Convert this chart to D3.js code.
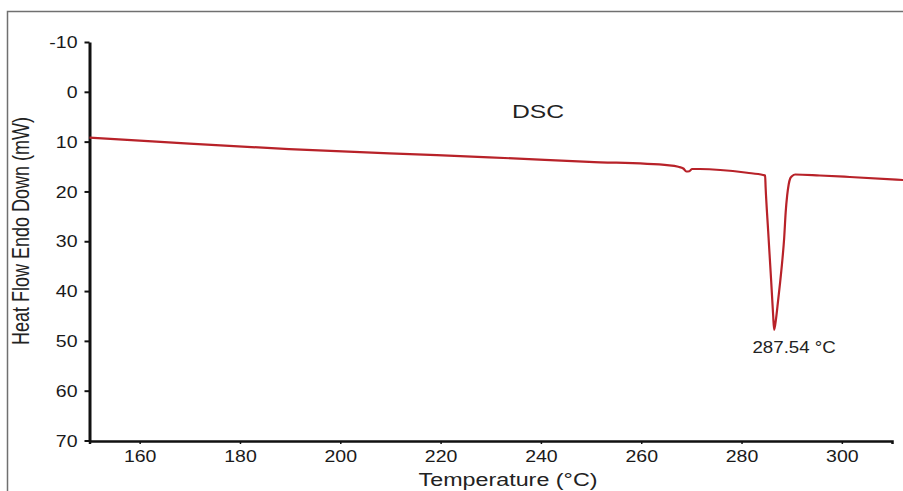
<!DOCTYPE html>
<html>
<head>
<meta charset="utf-8">
<script src="https://cdn.jsdelivr.net/npm/d3@7"></script>
<style>
  html, body { margin: 0; padding: 0; background: #fff; }
  svg { display: block; font-family: "Liberation Sans", Arial, sans-serif; }
</style>
</head>
<body>
<svg id="chart"></svg>
<script>
// DSC trace: temperature (°C) vs heat flow (mW, endo down)
const temps = [150.0, 160.0, 169.9, 189.8, 209.8, 229.7, 249.6, 265.6, 267.4, 268.4,
  269.0, 269.6, 270.1, 271.7, 281.1, 284.3, 284.7, 284.8, 285.3, 285.9,
  286.3, 286.5, 286.9, 287.3, 287.7, 288.1, 288.5, 288.8, 289.1, 289.4,
  289.7, 290.1, 290.7, 295.6, 301.6, 312.2];
const heatFlow = [9.2, 9.8, 10.4, 11.5, 12.35, 13.15, 14.05, 14.75, 15.05, 15.4,
  16.0, 15.95, 15.5, 15.5, 16.25, 16.7, 16.8, 19.1, 27.8, 37.8,
  44.8, 47.8, 45.4, 41.8, 38.2, 34.2, 29.4, 24.2, 20.8, 18.6,
  17.4, 16.9, 16.6, 16.8, 17.1, 17.7];

const xTicks = [160, 180, 200, 220, 240, 260, 280, 300];
const yTicks = [-10, 0, 10, 20, 30, 40, 50, 60, 70];
const peakLabel = "287.54 °C";
const peakTemp = 286.5;

const w = 903;
const h = 491;
const stretch = 1.22; // the figure is stretched sideways

const svg = d3.select("#chart").attr("width", w).attr("height", h);
svg.append("rect").attr("width", w).attr("height", h).attr("fill", "#fff");

// frame round the figure (top and left edges show)
svg.append("path")
  .attr("d", "M7.5,491 V11.5 H903")
  .attr("fill", "none")
  .attr("stroke", "#707070")
  .attr("stroke-width", 1.5);

const x = d3.scaleLinear().domain([150, 310]).range([89.5, 892]);
const y = d3.scaleLinear().domain([-10, 70]).range([42, 440.5]);

// y axis
const yAxis = svg.append("g")
  .attr("transform", "translate(89.5,0)")
  .call(d3.axisLeft(y).tickValues(yTicks).tickSize(5).tickSizeOuter(0));
yAxis.select(".domain").attr("stroke", "#111").attr("stroke-width", 3);
yAxis.selectAll(".tick line").attr("stroke", "#111").attr("stroke-width", 2);
yAxis.selectAll(".tick text").remove();
yAxis.selectAll(".tick")
  .append("text")
  .attr("transform", `translate(-12,0) scale(${stretch},1)`)
  .attr("dy", "0.35em")
  .attr("text-anchor", "end")
  .attr("fill", "#1a1a1a")
  .style("font-size", "16px")
  .text((d) => d);

// x axis
const xAxis = svg.append("g")
  .attr("transform", "translate(0,441)")
  .call(d3.axisBottom(x).tickValues(xTicks).tickSize(3).tickSizeOuter(3));
xAxis.select(".domain").attr("stroke", "#111").attr("stroke-width", 2.5);
xAxis.selectAll(".tick line").attr("stroke", "#111").attr("stroke-width", 1.5);
xAxis.selectAll(".tick text").remove();
xAxis.selectAll(".tick")
  .append("text")
  .attr("transform", `translate(0,21) scale(${stretch},1)`)
  .attr("text-anchor", "middle")
  .attr("fill", "#1a1a1a")
  .style("font-size", "16px")
  .text((d) => d);

// axis titles
svg.append("text")
  .attr("transform", `translate(508,486) scale(1.26,1)`)
  .attr("text-anchor", "middle")
  .attr("fill", "#222")
  .style("font-size", "18.5px")
  .text("Temperature (°C)");

svg.append("text")
  .attr("transform", `translate(29,231) scale(1.3,1) rotate(-90)`)
  .attr("text-anchor", "middle")
  .attr("fill", "#222")
  .style("font-size", "18px")
  .text("Heat Flow Endo Down (mW)");

// chart label
svg.append("text")
  .attr("transform", `translate(538,118) scale(1.3,1)`)
  .attr("text-anchor", "middle")
  .attr("fill", "#222")
  .style("font-size", "19px")
  .text("DSC");

// DSC curve
const line = d3.line()
  .x((d, i) => x(temps[i]))
  .y((d) => y(d))
  .curve(d3.curveMonotoneX);

svg.append("path")
  .datum(heatFlow)
  .attr("fill", "none")
  .attr("stroke", "#b82229")
  .attr("stroke-width", 2.2)
  .attr("stroke-linejoin", "round")
  .attr("d", line);

// peak annotation
svg.append("text")
  .attr("transform", `translate(${x(peakTemp) + 20},353) scale(1.17,1)`)
  .attr("text-anchor", "middle")
  .attr("fill", "#222")
  .style("font-size", "16px")
  .text(peakLabel);
</script>
</body>
</html>
